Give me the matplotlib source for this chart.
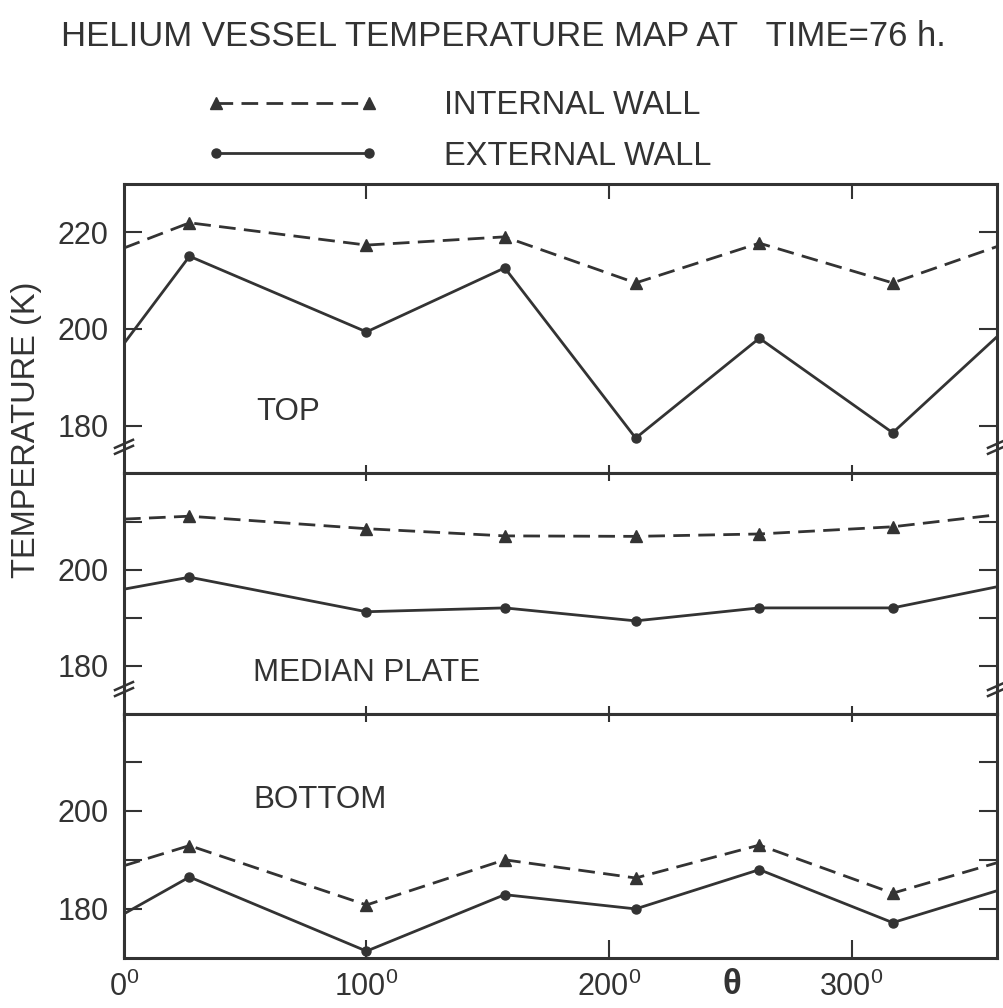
import numpy as np
import matplotlib.pyplot as plt
from matplotlib.lines import Line2D

plt.rcParams['font.family'] = ['Liberation Sans', 'DejaVu Sans']
plt.rcParams['mathtext.fontset'] = 'custom'
plt.rcParams['mathtext.rm'] = 'Liberation Sans'
plt.rcParams['lines.scale_dashes'] = False

# angular position (deg) of the probes around the vessel
theta = [0, 27, 100, 157, 211, 262, 317, 360]

# temperatures (K), internal / external wall
top_int = [216.7, 221.9, 217.3, 219.0, 209.5, 217.7, 209.5, 217.0]
top_ext = [197.0, 215.0, 199.4, 212.6, 177.5, 198.1, 178.6, 198.4]
mid_int = [210.6, 211.2, 208.6, 207.1, 207.0, 207.5, 209.0, 211.5]
mid_ext = [196.0, 198.5, 191.3, 192.1, 189.4, 192.1, 192.1, 196.5]
bot_int = [188.8, 192.9, 180.8, 190.0, 186.3, 193.0, 183.2, 189.4]
bot_ext = [179.0, 186.5, 171.4, 182.9, 180.0, 188.0, 177.2, 183.7]

panel_names = ['TOP', 'MEDIAN PLATE', 'BOTTOM']
xtick_vals = [0, 100, 200, 300]
xtick_labels = [r'$\mathregular{%d^0}$' % v for v in xtick_vals]

ink = '#333333'
dash = (0, (12, 6))
tri = dict(marker='^', markersize=9)
dot = dict(marker='o', markersize=6.5)

fig = plt.figure(figsize=(10.04, 10.08), dpi=100)
W_PX, H_PX = 1004, 1008
LEFT, RIGHT = 124, 997


def panel(top, bottom):
    return fig.add_axes([LEFT / W_PX, 1 - bottom / H_PX,
                         (RIGHT - LEFT) / W_PX, (bottom - top) / H_PX])


ax_top = panel(184, 473)
ax_mid = panel(473, 714)
ax_bot = panel(714, 958)

panels = [
    (ax_top, top_int, top_ext, (170.3, 229.9), [180, 200, 220], ['180', '200', '220'],
     (0.152, 0.21), 175.7),
    (ax_mid, mid_int, mid_ext, (170.0, 220.2), [180, 190, 200, 210], ['180', '', '200', ''],
     (0.148, 0.17), 175.2),
    (ax_bot, bot_int, bot_ext, (170.0, 219.7), [180, 190, 200, 210], ['180', '', '200', ''],
     (0.148, 0.648), None),
]

inner = list(range(1, len(theta) - 1))

for name, (ax, t_int, t_ext, ylim, yt, ylab, name_pos, brk) in zip(panel_names, panels):
    ax.plot(theta, t_int, color=ink, lw=2, linestyle=dash, markevery=inner, **tri)
    ax.plot(theta, t_ext, color=ink, lw=2, markevery=inner, **dot)
    ax.set_xlim(0, 360)
    ax.set_ylim(*ylim)
    ax.set_yticks(yt)
    ax.set_yticklabels(ylab)
    ax.set_xticks([100, 200, 300])
    ax.set_xticklabels([])
    ax.tick_params(axis='y', direction='in', left=True, right=True, length=13,
                   width=1.5, color=ink, labelsize=22, labelcolor=ink, pad=11)
    ax.tick_params(axis='x', direction='in', top=True, bottom=True, width=1.5, color=ink)
    for s in ax.spines.values():
        s.set_linewidth(2.2)
        s.set_color(ink)
    ax.text(name_pos[0], name_pos[1], name, transform=ax.transAxes, fontsize=22.5,
            color=ink, ha='left', va='center')

    # axis break marks on both side spines
    if brk is not None:
        bb = ax.get_position()
        w_px = bb.width * W_PX
        h_px = bb.height * H_PX
        yf = (brk - ylim[0]) / (ylim[1] - ylim[0])
        for x0 in (0.0, 1.0):
            for off in (-3.0, 3.0):
                xs = [x0 - 9 / w_px, x0 + 9 / w_px]
                ys = [yf + (off - 4) / h_px, yf + (off + 4) / h_px]
                ax.plot(xs, ys, color=ink, lw=1.8, transform=ax.transAxes, clip_on=False)


# tick lengths differ on the top and bottom spines of each panel
def x_tick_len(ax, bottom_len, top_len):
    for tk in ax.xaxis.get_major_ticks():
        tk.tick1line.set_markersize(bottom_len)
        tk.tick2line.set_markersize(top_len)


x_tick_len(ax_top, 6, 11)
x_tick_len(ax_mid, 6, 6)

ax_bot.set_xticks(xtick_vals)
ax_bot.set_xticklabels(xtick_labels)
ax_bot.tick_params(axis='x', labelsize=22, labelcolor=ink, pad=10)
x_tick_len(ax_bot, 13, 6)

fig.text(732 / W_PX, 1 - 985 / H_PX, 'θ', fontsize=25, color=ink,
         ha='center', va='center', fontweight='bold')
fig.text(27 / W_PX, 1 - 430 / H_PX, 'TEMPERATURE (K)', rotation=90, fontsize=23.5,
         color=ink, ha='center', va='center')
fig.text(503 / W_PX, 1 - 36 / H_PX, 'HELIUM VESSEL TEMPERATURE MAP AT   TIME=76 h.',
         fontsize=25, color=ink, ha='center', va='center')

handles = [Line2D([], [], color=ink, lw=2, linestyle=dash, **tri),
           Line2D([], [], color=ink, lw=2, **dot)]
leg = fig.legend(handles, ['INTERNAL WALL', 'EXTERNAL WALL'], loc='upper left',
                 bbox_to_anchor=(206 / W_PX, 1 - 90 / H_PX), frameon=False,
                 numpoints=2, handlelength=5.3, handletextpad=1.98, labelspacing=0.6,
                 fontsize=23.5, borderpad=0, borderaxespad=0)
for txt in leg.get_texts():
    txt.set_color(ink)

fig.savefig('out.png', dpi=100, facecolor='white')
